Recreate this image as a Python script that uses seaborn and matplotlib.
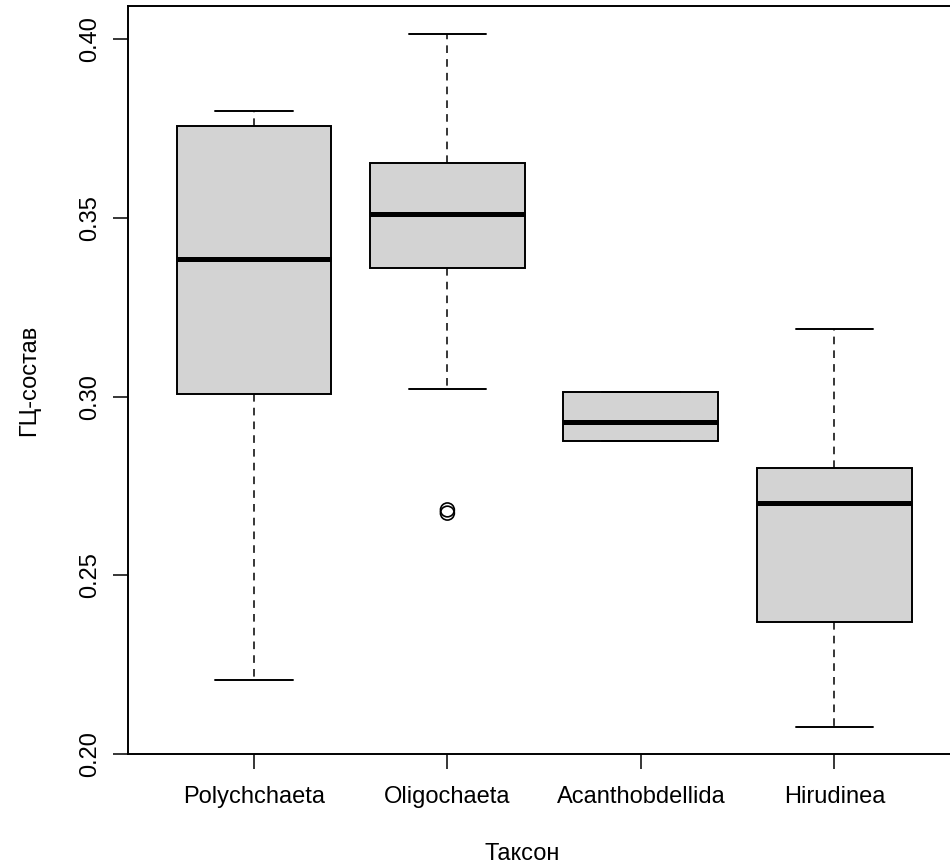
import numpy as np
import pandas as pd
import matplotlib
matplotlib.use("Agg")
import matplotlib.pyplot as plt
import seaborn as sns

# ---- data (five-number summaries) ----
taxa = ["Polychchaeta", "Oligochaeta", "Acanthobdellida", "Hirudinea"]
polychaeta = [0.2206, 0.3008, 0.3386, 0.3757, 0.3798]
oligochaeta = [0.3020, 0.3360, 0.3511, 0.3653, 0.4016]
acanthobdellida = [0.2876, 0.2876, 0.2930, 0.3014, 0.3014]
hirudinea = [0.2076, 0.2370, 0.2701, 0.2801, 0.3189]
outlier_taxa = ["Oligochaeta", "Oligochaeta"]
outlier_values = [0.2683, 0.2674]
yticks = [0.20, 0.25, 0.30, 0.35, 0.40]
ytick_labels = ["0.20", "0.25", "0.30", "0.35", "0.40"]

groups = [polychaeta, oligochaeta, acanthobdellida, hirudinea]
df = pd.DataFrame({
    "taxon": np.repeat(taxa, [len(g) for g in groups]),
    "gc": np.concatenate(groups),
})
out_df = pd.DataFrame({"taxon": outlier_taxa, "gc": outlier_values})

sns.set_theme(style="ticks")
plt.rcParams["font.family"] = ["Liberation Sans", "DejaVu Sans"]

W, H = 950, 868
fig = plt.figure(figsize=(W / 100, H / 100), dpi=100)
left, right, top, bottom = 128, 962, 6, 754
ax = fig.add_axes([left / W, 1 - bottom / H, (right - left) / W, (bottom - top) / H])

sns.boxplot(
    data=df, x="taxon", y="gc", order=taxa, ax=ax,
    color="#D3D3D3", saturation=1, width=0.8, whis=(0, 100),
    linecolor="black", linewidth=1.4, showfliers=False,
    medianprops=dict(linewidth=3.6, color="black"),
    whiskerprops=dict(linewidth=1.1, linestyle=(0, (5, 4)), color="black"),
    capprops=dict(linewidth=1.4, color="black"),
    capwidths=0.40,
)
sns.stripplot(
    data=out_df, x="taxon", y="gc", order=taxa, ax=ax, jitter=False,
    marker="o", s=10, facecolor="none", edgecolor="black", linewidth=1.2,
)

ax.set_xlim(-0.651, 3.66)
ax.set_ylim(0.2, 0.4093)
ax.set_yticks(yticks)
ax.set_yticklabels(ytick_labels, rotation=90, va="center")
for s in ax.spines.values():
    s.set_visible(True)
    s.set_linewidth(1.4)
    s.set_color("black")
ax.tick_params(axis="both", length=10.8, width=1.1, color="black",
               labelsize=17, labelcolor="black")
ax.tick_params(axis="x", pad=12)
ax.tick_params(axis="y", pad=8.5)

ax.set_xlabel("Таксон", fontsize=17, color="black")
ax.set_ylabel("ГЦ-состав", fontsize=17, color="black")
ax.xaxis.set_label_coords((522 - left) / (right - left), -0.119)
ax.yaxis.set_label_coords((40 - left) / (right - left), 0.5)

fig.savefig("out.png", dpi=100, facecolor="white")
